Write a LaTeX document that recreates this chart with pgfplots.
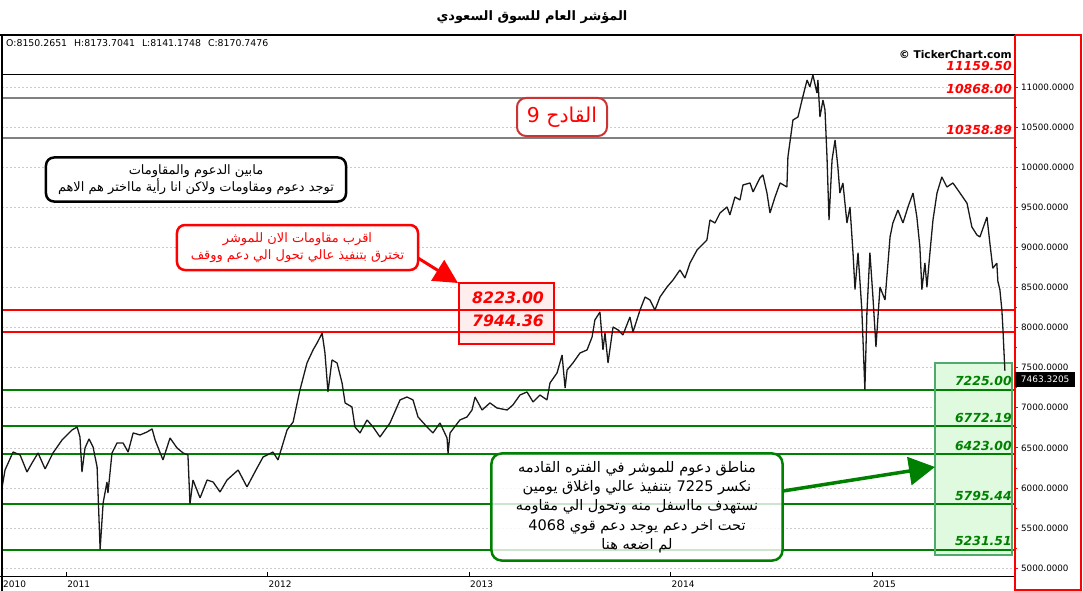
\documentclass[border=0pt]{standalone}
\usepackage{pgfplots}
\pgfplotsset{compat=1.18}
\usepackage{fontspec}
\setmainfont{DejaVu Sans}[ItalicFont={DejaVu Sans Oblique},BoldItalicFont={DejaVu Sans Bold Oblique}]
\newfontfamily\arabicfont[Script=Arabic]{DejaVu Sans}
\TeXXeTstate=1
\usetikzlibrary{arrows.meta}
\definecolor{lvlgreen}{RGB}{0,128,0}
\definecolor{lvlgray}{RGB}{128,128,128}
\definecolor{boxgreen}{RGB}{224,250,224}
\definecolor{boxgreenb}{RGB}{80,170,110}
\definecolor{boxpink}{RGB}{255,238,238}
\definecolor{qred}{RGB}{204,51,51}
\pgfplotstableread{
year value
2010.682 6000
2010.697 6224
2010.737 6448
2010.772 6411
2010.806 6199
2010.831 6311
2010.861 6436
2010.896 6237
2010.935 6436
2010.980 6598
2011.030 6723
2011.055 6760
2011.069 6636
2011.079 6199
2011.094 6498
2011.114 6611
2011.134 6511
2011.154 6262
2011.169 5235
2011.184 5813
2011.203 6074
2011.208 5937
2011.228 6436
2011.253 6561
2011.283 6561
2011.308 6448
2011.333 6686
2011.367 6661
2011.402 6698
2011.427 6736
2011.442 6598
2011.481 6349
2011.516 6623
2011.551 6498
2011.581 6436
2011.605 6411
2011.615 5800
2011.630 6099
2011.665 5875
2011.700 6099
2011.730 6074
2011.764 5950
2011.799 6099
2011.854 6224
2011.898 6013
2011.948 6249
2011.978 6386
2012.027 6448
2012.052 6349
2012.097 6723
2012.127 6823
2012.161 7222
2012.196 7559
2012.226 7721
2012.246 7808
2012.271 7930
2012.285 7683
2012.300 7197
2012.320 7596
2012.345 7559
2012.370 7309
2012.385 7060
2012.419 7010
2012.434 6760
2012.459 6686
2012.494 6848
2012.524 6760
2012.558 6636
2012.608 6811
2012.658 7098
2012.692 7134
2012.722 7098
2012.747 6885
2012.792 6760
2012.821 6686
2012.856 6811
2012.891 6623
2012.896 6430
2012.906 6686
2012.955 6848
2012.990 6885
2013.015 6972
2013.030 7134
2013.065 6972
2013.104 7060
2013.139 6997
2013.189 6972
2013.218 7035
2013.253 7159
2013.288 7197
2013.318 7072
2013.352 7159
2013.387 7098
2013.402 7309
2013.437 7434
2013.462 7658
2013.477 7247
2013.487 7471
2013.516 7559
2013.551 7683
2013.586 7721
2013.611 7883
2013.625 8095
2013.650 8194
2013.665 7721
2013.675 7933
2013.690 7559
2013.715 8007
2013.740 7970
2013.764 7908
2013.799 8132
2013.814 7945
2013.849 8219
2013.874 8381
2013.898 8344
2013.923 8219
2013.948 8381
2013.983 8506
2014.013 8594
2014.047 8718
2014.072 8618
2014.097 8805
2014.132 8967
2014.181 9092
2014.196 9341
2014.221 9304
2014.246 9429
2014.281 9504
2014.295 9404
2014.320 9628
2014.345 9591
2014.360 9778
2014.395 9803
2014.410 9691
2014.444 9865
2014.459 9903
2014.479 9678
2014.494 9429
2014.519 9628
2014.544 9803
2014.578 9753
2014.583 10127
2014.608 10588
2014.633 10626
2014.653 10838
2014.678 11087
2014.692 11000
2014.707 11150
2014.727 10925
2014.732 11087
2014.742 10626
2014.757 10838
2014.767 10713
2014.777 10127
2014.787 9341
2014.802 10090
2014.817 10339
2014.831 10002
2014.841 9678
2014.856 9803
2014.876 9304
2014.891 9504
2014.906 8935
2014.916 8474
2014.931 8935
2014.950 8219
2014.965 7227
2014.975 8182
2014.990 8935
2015.005 8381
2015.020 7758
2015.040 8506
2015.065 8344
2015.090 9130
2015.104 9304
2015.129 9466
2015.154 9304
2015.179 9504
2015.204 9678
2015.223 9379
2015.238 9005
2015.248 8474
2015.263 8805
2015.273 8506
2015.288 8935
2015.303 9341
2015.323 9678
2015.347 9878
2015.372 9753
2015.402 9803
2015.437 9678
2015.472 9550
2015.496 9255
2015.521 9155
2015.536 9130
2015.571 9379
2015.586 9040
2015.600 8740
2015.620 8803
2015.625 8578
2015.635 8474
2015.645 8219
2015.650 7995
2015.655 7721
2015.660 7463
}\tasi
\begin{document}
\begin{tikzpicture}
\path[use as bounding box] (0bp,0bp) rectangle (1083bp,-591bp);
\begin{axis}[
  at={(2bp,-576bp)}, anchor=south west,
  scale only axis, width=1012bp, height=541bp,
  xmin=2010.682, xmax=2015.705, ymin=4902, ymax=11648,
  axis line style={draw=none},
  scaled y ticks=false, scaled x ticks=false,
  xtick={2010.682,2011,2012,2013,2014,2015},
  xticklabels={2010,2011,2012,2013,2014,2015},
  xtick pos=bottom,
  x tick style={draw=none},
  xticklabel style={anchor=north west, font=\fontsize{9}{10}\selectfont, inner sep=1bp, yshift=0bp},
  ytick={5000,5500,6000,6500,7000,7500,8000,8500,9000,9500,10000,10500,11000},
  yticklabels={5000.0000,5500.0000,6000.0000,6500.0000,7000.0000,7500.0000,8000.0000,8500.0000,9000.0000,9500.0000,10000.0000,10500.0000,11000.0000},
  ytick pos=right, yticklabel pos=right,
  tick align=outside,
  major tick length=4bp, minor tick length=3bp,
  minor y tick num=1,
  y tick style={red, line width=0.8bp},
  yticklabel style={anchor=west, font=\fontsize{8.8}{10}\selectfont, inner sep=1bp, xshift=2bp},
  ymajorgrids=true,
  grid style={gray!40, dash pattern=on 2bp off 2bp, line width=0.6bp},
]
% zone boxes
\fill[boxgreen] (axis cs:2015.313,5160) rectangle (axis cs:2015.697,7560);
\fill[boxpink] (axis cs:2012.950,7795) rectangle (axis cs:2013.422,8556);
% level lines
\draw[black, line width=1bp] (axis cs:2010.682,11159.5) -- (axis cs:2015.705,11159.5);
\draw[lvlgray, line width=2bp] (axis cs:2010.682,10868) -- (axis cs:2015.705,10868);
\draw[lvlgray, line width=2bp] (axis cs:2010.682,10358.89) -- (axis cs:2015.705,10358.89);
\draw[red, line width=2bp] (axis cs:2010.682,8223) -- (axis cs:2015.705,8223);
\draw[red, line width=2bp] (axis cs:2010.682,7944.36) -- (axis cs:2015.705,7944.36);
\draw[lvlgreen, line width=2bp] (axis cs:2010.682,7225) -- (axis cs:2015.705,7225);
\draw[lvlgreen, line width=2bp] (axis cs:2010.682,6772.19) -- (axis cs:2015.705,6772.19);
\draw[lvlgreen, line width=2bp] (axis cs:2010.682,6423) -- (axis cs:2015.705,6423);
\draw[lvlgreen, line width=2bp] (axis cs:2010.682,5795.44) -- (axis cs:2015.705,5795.44);
\draw[lvlgreen, line width=2bp] (axis cs:2010.682,5231.51) -- (axis cs:2015.705,5231.51);
\draw[boxgreenb, line width=1.8bp] (axis cs:2015.313,5160) rectangle (axis cs:2015.697,7560);
\draw[red, line width=1.8bp] (axis cs:2012.950,7795) rectangle (axis cs:2013.422,8556);
% price
\addplot[black!90, line width=1.3bp, mark=none, line join=bevel] table[x=year, y=value] {\tasi};
% level labels
\tikzset{lvl/.style={anchor=south east, inner sep=0pt, yshift=3.5bp, font=\fontsize{12.5}{14}\selectfont\bfseries\itshape}}
\node[lvl, text=red] at (axis cs:2015.695,11159.5) {11159.50};
\node[lvl, text=red] at (axis cs:2015.695,10868) {10868.00};
\node[lvl, text=red] at (axis cs:2015.695,10358.89) {10358.89};
\node[lvl, text=lvlgreen] at (axis cs:2015.695,7225) {7225.00};
\node[lvl, text=lvlgreen] at (axis cs:2015.695,6772.19) {6772.19};
\node[lvl, text=lvlgreen] at (axis cs:2015.695,6423) {6423.00};
\node[lvl, text=lvlgreen] at (axis cs:2015.695,5795.44) {5795.44};
\node[lvl, text=lvlgreen] at (axis cs:2015.695,5231.51) {5231.51};
\node[text=red, font=\fontsize{15.8}{17}\selectfont\bfseries\itshape, inner sep=0pt] at (axis cs:2013.194,8369) {8223.00};
\node[text=red, font=\fontsize{15.8}{17}\selectfont\bfseries\itshape, inner sep=0pt] at (axis cs:2013.194,8082) {7944.36};
\pgfplotsinvokeforeach{2011,2012,2013,2014,2015}{\draw[black, line width=0.6bp] (axis cs:#1,4902) -- ++(0bp,4bp);}
\end{axis}
\begin{scope}[x=1bp,y=-1bp]
% frame
\draw[black, line width=2.5bp] (2,35) -- (2,591);
\draw[black, line width=1.2bp] (0,35) -- (1015,35);
\draw[black, line width=1.2bp] (0,576.5) -- (1015,576.5);
\draw[red, line width=2bp] (1015,35) -- (1015,591);
\draw[red, line width=2bp] (1015,35) -- (1081,35) -- (1081,590) -- (1015,590);
% title
\node[font=\arabicfont\bfseries\fontsize{13}{15}\selectfont] at (532,17) {\beginR المؤشر العام للسوق السعودي\endR};
% OHLC
\node[anchor=west, font=\fontsize{9.4}{10}\selectfont, inner sep=0pt] at (6,43) {O:8150.2651\hspace{7bp}H:8173.7041\hspace{7bp}L:8141.1748\hspace{7bp}C:8170.7476};
\node[anchor=east, font=\fontsize{10.7}{12}\selectfont\bfseries, inner sep=0pt] at (1012,55) {© TickerChart.com};
% last price tag
\node[fill=black, text=white, font=\fontsize{9}{10}\selectfont, inner sep=0pt, minimum width=60bp, minimum height=15bp, anchor=west] at (1015,379.5) {7463.3205};
% annotations
\node[draw=black, line width=2.5bp, rounded corners=8bp, fill=white, minimum width=300bp, minimum height=44bp, align=center, inner sep=0pt, font=\arabicfont\fontsize{13}{16}\selectfont] at (196,179.5) {\beginR مابين الدعوم والمقاومات\endR\\\beginR توجد دعوم ومقاومات ولاكن انا رأية مااختر هم الاهم\endR};
\node[draw=red, line width=2.5bp, rounded corners=8bp, fill=white, minimum width=241bp, minimum height=45bp, align=center, inner sep=0pt, text=red, font=\arabicfont\fontsize{13}{17}\selectfont] at (297.5,247.5) {\beginR اقرب مقاومات الان للموشر\endR\\\beginR تخترق بتنفيذ عالي تحول الي دعم ووقف\endR};
\draw[red, line width=3bp, -{Triangle[length=24bp,width=24bp]}] (418,258) -- (458,283);
\node[draw=qred, line width=2bp, rounded corners=9bp, fill=white, minimum width=90bp, minimum height=38bp, inner sep=0pt, text=red, font=\arabicfont\fontsize{20.5}{22}\selectfont] at (562,117) {\beginR القادح 9\endR};
\node[draw=lvlgreen, line width=2.5bp, rounded corners=10bp, fill=white, fill opacity=0.8, text opacity=1, minimum width=291bp, minimum height=107bp, align=center, inner sep=0pt, font=\arabicfont\fontsize{14.6}{19.3}\selectfont] at (637,507) {\beginR مناطق دعوم للموشر في الفتره القادمه\endR\\\beginR نكسر \beginL 7225\endL{} بتنفيذ عالي واغلاق يومين\endR\\\beginR نستهدف مااسفل منه وتحول الي مقاومه\endR\\\beginR تحت اخر دعم يوجد دعم قوي \beginL 4068\endL\endR\\\beginR لم اضعه هنا\endR};
\draw[lvlgreen, line width=3.5bp, -{Triangle[length=26bp,width=28bp]}] (783,491) -- (935,467);
\end{scope}
\end{tikzpicture}
\end{document}
